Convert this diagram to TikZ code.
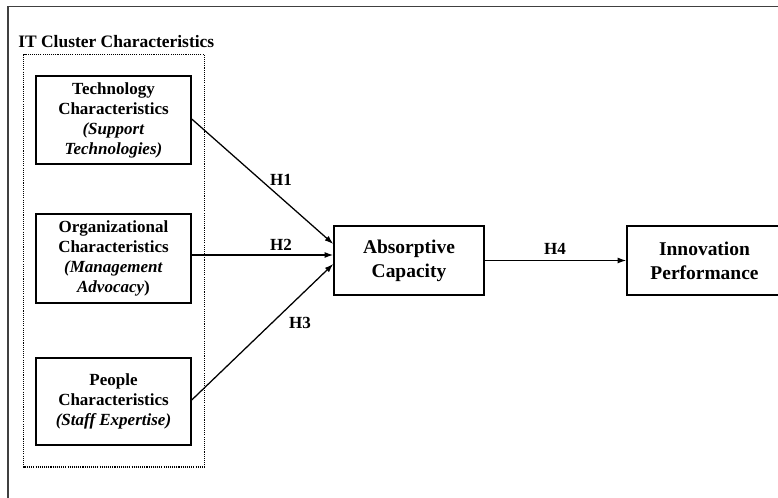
\documentclass[tikz,border=0pt]{standalone}
\usepackage{fontspec}
\setmainfont{Liberation Serif}
\usetikzlibrary{arrows.meta,calc}
\begin{document}
\begin{tikzpicture}[x=0.75pt,y=-0.75pt,
  box/.style={draw=black,line width=1.1pt,inner sep=0pt,align=center,font=\bfseries\fontsize{12.75}{15}\selectfont},
  bigbox/.style={draw=black,line width=1.1pt,inner sep=0pt,align=center,font=\bfseries\fontsize{14.6}{18}\selectfont},
  hlab/.style={inner sep=0pt,font=\bfseries\fontsize{12.75}{15}\selectfont},
  conn/.style={line width=0.95pt,-{Latex[length=6.5pt,width=4.5pt]}}]
\useasboundingbox (0,0) rectangle (778,498);
\begin{scope}
\clip (0,0) rectangle (778,498);
% outer frame (only top and left visible)
\draw[line width=1.3pt,black!75] (8,500) -- (8,6.5) -- (780,6.5);
% title
\node[anchor=base west,inner sep=0pt,font=\bfseries\fontsize{13.1}{15}\selectfont] (title) at (18,48) {IT Cluster Characteristics};
% dotted group
\draw[line width=0.85pt,dash pattern=on 0.8pt off 0.8pt] (23.5,54.5) rectangle (204.5,467);
% boxes
\node[box,minimum width=155*0.75pt,minimum height=88*0.75pt] (tech) at (113.5,120) {Technology\\Characteristics\\\textit{(Support}\\\textit{Technologies)}};
\node[box,minimum width=155*0.75pt,minimum height=89*0.75pt] (org) at (113.5,258.5) {Organizational\\Characteristics\\\textit{(Management}\\\textit{Advocacy}{)}};
\node[box,minimum width=155*0.75pt,minimum height=87*0.75pt] (ppl) at (113.5,401.5) {People\\Characteristics\\\textit{(Staff Expertise)}};
\node[bigbox,minimum width=150*0.75pt,minimum height=69*0.75pt] (abs) at (409,260.5) {Absorptive\\Capacity};
\node[bigbox,minimum width=155*0.75pt,minimum height=69*0.75pt] (inn) at (704.5,260.5) {Innovation\\Performance};
% connectors
\draw[conn] ($(tech.east)+(0,-1)$) -- ($(abs.west)+(0,-16.5)$);
\draw[conn] ($(org.east)+(0,-3.5)$) -- ($(abs.west)+(0,-5.5)$);
\draw[conn] ($(ppl.east)+(0,-1.5)$) -- ($(abs.west)+(0,3.5)$);
\draw[conn] (abs.east) -- (inn.west);
% labels
\node[hlab] (h1) at (281,180) {H1};
\node[hlab] (h2) at (281,245) {H2};
\node[hlab] (h3) at (300,323) {H3};
\node[hlab] (h4) at (555,248.5) {H4};
\end{scope}
\end{tikzpicture}
\end{document}
